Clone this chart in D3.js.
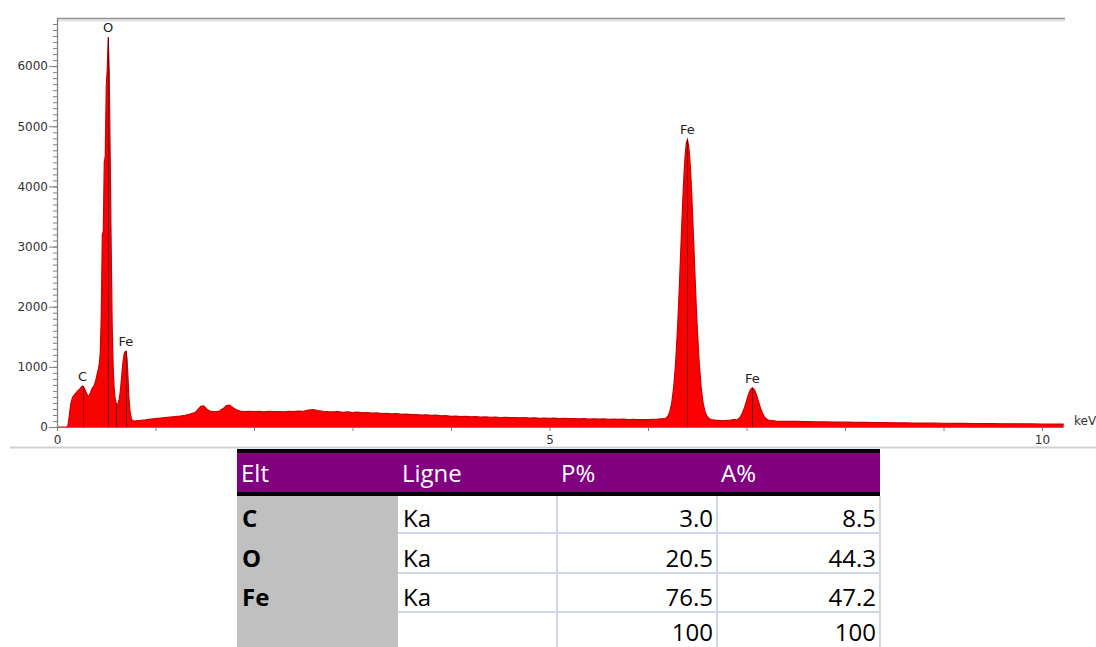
<!DOCTYPE html>
<html><head><meta charset="utf-8">
<script src="https://cdn.jsdelivr.net/npm/d3@7"></script>
<style>body{margin:0;background:#fff;} svg{display:block;}</style>
</head><body>
<svg id="chart" width="1096" height="647"></svg>
<script>
// ---------- Spectrum data (keV, counts) ----------
const lowEnergy = [[0,0],[0.10,0],[0.11,20],[0.12,120],[0.13,260],[0.14,380],[0.15,450],[0.16,500],[0.17,520],[0.18,545],[0.19,560],[0.20,580],[0.21,600],[0.22,615],[0.23,630],[0.24,650],[0.25,670],[0.26,680],[0.27,660],[0.28,640],[0.29,600],[0.30,560],[0.31,530],[0.32,510],[0.33,530],[0.34,570],[0.35,620],[0.36,650],[0.37,670],[0.38,700],[0.39,760],[0.40,820],[0.41,900],[0.42,960],[0.43,1050],[0.44,1250],[0.45,1900],[0.46,3200],[0.47,3250],[0.48,4400],[0.49,4500],[0.50,5650],[0.51,5950],[0.52,6480],[0.53,5900],[0.54,4500],[0.55,3000],[0.56,1700],[0.57,1000],[0.58,650],[0.59,470],[0.60,400],[0.61,370],[0.62,390],[0.63,450],[0.64,560],[0.65,720],[0.66,900],[0.67,1080],[0.68,1200],[0.69,1250],[0.70,1260],[0.71,1150],[0.72,850],[0.73,500],[0.74,280],[0.75,170],[0.76,120],[0.77,105],[0.78,100],[0.79,98],[0.80,104]];
const background = [[0.85,110],[0.90,118],[0.95,130],[1.00,140],[1.05,150],[1.10,158],[1.15,165],[1.20,172],[1.25,180],[1.30,195],[1.35,215],[1.40,240],[1.43,290],[1.46,345],[1.49,350],[1.52,300],[1.55,265],[1.60,250],[1.65,265],[1.69,310],[1.72,355],[1.75,365],[1.78,330],[1.82,285],[1.86,265],[1.90,258],[1.95,262],[2.00,255],[2.05,260],[2.10,252],[2.15,262],[2.20,255],[2.25,258],[2.30,250],[2.35,262],[2.40,256],[2.45,265],[2.50,262],[2.55,280],[2.60,288],[2.65,272],[2.70,262],[2.75,255],[2.80,250],[2.85,256],[2.90,245],[2.95,252],[3.00,240],[3.05,246],[3.10,236],[3.15,240],[3.20,230],[3.25,234],[3.30,222],[3.35,228],[3.40,218],[3.45,222],[3.50,210],[3.55,215],[3.60,205],[3.65,208],[3.70,198],[3.75,202],[3.80,192],[3.85,196],[3.90,186],[3.95,188],[4.00,178],[4.05,182],[4.10,174],[4.15,178],[4.20,170],[4.25,172],[4.30,165],[4.35,168],[4.40,162],[4.45,166],[4.50,158],[4.55,162],[4.60,155],[4.65,158],[4.70,152],[4.75,156],[4.80,148],[4.85,152],[4.90,145],[4.95,150],[5.00,143],[5.05,146],[5.10,140],[5.15,144],[5.20,138],[5.25,141],[5.30,136],[5.35,139],[5.40,133],[5.45,137],[5.50,131],[5.55,134],[5.60,128],[5.65,132],[5.70,126],[5.75,130],[5.80,124],[5.85,128],[5.90,122],[5.95,125],[6.00,124],[6.05,127],[6.10,130],[6.15,138]];
const feKa = [[6.18,145],[6.20,174],[6.22,246],[6.24,389],[6.26,646],[6.28,1057],[6.30,1650],[6.31,2010],[6.32,2404],[6.33,2820],[6.34,3241],[6.35,3647],[6.36,4020],[6.37,4335],[6.38,4575],[6.39,4729],[6.40,4780],[6.41,4700],[6.42,4560],[6.43,4320],[6.44,4010],[6.45,3640],[6.46,3230],[6.47,2810],[6.48,2400],[6.49,2000],[6.50,1650],[6.52,1060],[6.54,650],[6.56,390],[6.58,250],[6.60,175],[6.62,142]];
const gapKaKb = [[6.64,125],[6.68,115],[6.72,110],[6.76,108],[6.80,110],[6.84,115],[6.88,125]];
const feKb = [[6.90,116],[6.92,136],[6.94,174],[6.96,237],[6.98,326],[7.00,434],[7.02,540],[7.04,620],[7.06,650],[7.08,620],[7.10,540],[7.12,434],[7.14,326],[7.16,237],[7.18,174],[7.20,136],[7.22,116]];
const tail = [[7.3,100],[7.4,95],[7.5,92],[7.6,90],[7.7,86],[7.8,85],[7.9,82],[8.0,80],[8.1,78],[8.2,76],[8.3,75],[8.4,72],[8.5,70],[8.6,69],[8.7,66],[8.8,65],[8.9,63],[9.0,62],[9.1,60],[9.2,59],[9.3,58],[9.4,56],[9.5,55],[9.6,54],[9.7,53],[9.8,52],[9.9,51],[10.0,50],[10.1,49],[10.22,48]];

const peakLabels = ["C","O","Fe","Fe","Fe"];
const peakKeV    = [0.26, 0.52, 0.70, 6.40, 7.06];
const peakTop    = [680, 6480, 1260, 4780, 650];
const markerKeV  = [0.26, 0.52, 0.60, 0.70, 6.40, 7.06];
const markerTop  = [680, 6480, 400, 1260, 4780, 650];

const yTickValues = [0,1000,2000,3000,4000,5000,6000];
const xTickLabels = {0:"0",5:"5",10:"10"};

// ---------- Table data ----------
const headers = ["Elt","Ligne","P%","A%"];
const elements = ["C","O","Fe",""];
const lines = ["Ka","Ka","Ka",""];
const weightPct = ["3.0","20.5","76.5","100"];
const atomicPct = ["8.5","44.3","47.2","100"];

// ---------- Chart ----------
const spectrum = [].concat(lowEnergy, background, feKa, gapKaKb, feKb, tail);
const svg = d3.select("#chart");
const x = d3.scaleLinear().domain([0,10]).range([57,1042]);
const y = d3.scaleLinear().domain([0,6800]).range([427,18]);

// top frame line
svg.append("line").attr("x1",57).attr("x2",1065).attr("y1",20.5).attr("y2",20.5)
  .attr("stroke","#e2e2e2").attr("stroke-width",2);
svg.append("line").attr("x1",57).attr("x2",1065).attr("y1",18.5).attr("y2",18.5)
  .attr("stroke","#929292").attr("stroke-width",1.5);

// spectrum area
const area = d3.area().x(d=>x(d[0])).y0(y(0)).y1(d=>y(d[1]));
svg.append("path").datum(spectrum).attr("d",area).attr("fill","#fb0000");
const line = d3.line().x(d=>x(d[0])).y(d=>y(d[1]));
svg.append("path").datum(spectrum).attr("d",line).attr("fill","none")
  .attr("stroke","#cc0000").attr("stroke-width",1.2);

// peak marker lines
svg.append("g").selectAll("line").data(markerKeV).join("line")
  .attr("x1",d=>Math.round(x(d))+0.5).attr("x2",d=>Math.round(x(d))+0.5)
  .attr("y1",y(0)).attr("y2",(d,i)=>y(markerTop[i]))
  .attr("stroke","#7a0000").attr("stroke-width",1);

// left axis: minor ticks
const minor = svg.append("g").attr("transform","translate(57,0)")
  .call(d3.axisLeft(y).tickValues(d3.range(0,6800,100)).tickSize(4).tickFormat(""));
minor.select(".domain").remove();
minor.selectAll("line").attr("stroke","#808080");
// left axis: major ticks and labels
const major = svg.append("g").attr("transform","translate(57,0)")
  .call(d3.axisLeft(y).tickValues(yTickValues).tickSize(8).tickPadding(1).tickFormat(d3.format("d")));
major.select(".domain").remove();
major.selectAll("line").attr("stroke","#808080");
major.selectAll("text").attr("font-family","DejaVu Sans").attr("font-size",12).attr("fill","#333");
svg.append("line").attr("x1",57.5).attr("x2",57.5).attr("y1",18).attr("y2",431)
  .attr("stroke","#808080").attr("stroke-width",1.3);

// bottom axis
svg.append("line").attr("x1",57).attr("x2",x(10.22)).attr("y1",427.5).attr("y2",427.5)
  .attr("stroke","#8a6a6a").attr("stroke-width",1);
const xa = svg.append("g").attr("transform","translate(0,427)")
  .call(d3.axisBottom(x).tickValues(d3.range(0,11,1)).tickSize(4).tickPadding(4)
    .tickFormat(d=>xTickLabels[d]||""));
xa.select(".domain").remove();
xa.selectAll("line").attr("stroke","#808080");
xa.selectAll("text").attr("font-family","DejaVu Sans").attr("font-size",12).attr("fill","#333");
svg.append("text").attr("x",1074).attr("y",425).text("keV")
  .attr("font-family","DejaVu Sans").attr("font-size",12).attr("fill","#333");

// peak labels
svg.append("g").selectAll("text").data(peakLabels).join("text")
  .attr("x",(d,i)=>x(peakKeV[i])).attr("y",(d,i)=>y(peakTop[i])-5)
  .attr("text-anchor","middle").attr("font-family","DejaVu Sans").attr("font-size",13)
  .attr("fill","#222").text(d=>d);

// separator line under chart
svg.append("line").attr("x1",10).attr("x2",1096).attr("y1",447.5).attr("y2",447.5)
  .attr("stroke","#cfcfcf").attr("stroke-width",2);

// ---------- Table ----------
const colX = [237,398,557,717,880];
const rowY = [496,533,573,612,652];
const tg = svg.append("g");
tg.append("rect").attr("x",colX[0]).attr("y",449).attr("width",colX[4]-colX[0]).attr("height",4).attr("fill","#000");
tg.append("rect").attr("x",colX[0]).attr("y",453).attr("width",colX[4]-colX[0]).attr("height",39).attr("fill","#800080");
tg.append("rect").attr("x",colX[0]).attr("y",492).attr("width",colX[4]-colX[0]).attr("height",4).attr("fill","#000");
tg.append("rect").attr("x",colX[0]).attr("y",496).attr("width",colX[1]-colX[0]).attr("height",151).attr("fill","#c0c0c0");
// grid
tg.selectAll("line.h").data(rowY.slice(1,4)).join("line").attr("class","h")
  .attr("x1",colX[1]).attr("x2",colX[4]+1).attr("y1",d=>d).attr("y2",d=>d)
  .attr("stroke","#cfd7e6").attr("stroke-width",2);
tg.selectAll("line.v").data(colX.slice(2)).join("line").attr("class","v")
  .attr("x1",d=>d).attr("x2",d=>d).attr("y1",496).attr("y2",647)
  .attr("stroke","#cfd7e6").attr("stroke-width",2);
const fontT = "'Open Sans', Lato, sans-serif";
const fs = 24;
tg.selectAll("text.hd").data(headers).join("text").attr("class","hd")
  .attr("x",(d,i)=>colX[i]+4).attr("y",482).text(d=>d)
  .attr("font-family",fontT).attr("font-size",fs).attr("fill","#fff");
const baseY = [527,567,606,641];
tg.selectAll("text.el").data(elements).join("text").attr("class","el")
  .attr("x",colX[0]+5).attr("y",(d,i)=>baseY[i]).text(d=>d)
  .attr("font-family",fontT).attr("font-weight","bold").attr("font-size",fs).attr("fill","#000");
tg.selectAll("text.ln").data(lines).join("text").attr("class","ln")
  .attr("x",colX[1]+5).attr("y",(d,i)=>baseY[i]).text(d=>d)
  .attr("font-family",fontT).attr("font-size",fs).attr("fill","#000");
tg.selectAll("text.wp").data(weightPct).join("text").attr("class","wp")
  .attr("x",colX[3]-4).attr("y",(d,i)=>baseY[i]).attr("text-anchor","end").text(d=>d)
  .attr("font-family",fontT).attr("font-size",fs).attr("fill","#000");
tg.selectAll("text.ap").data(atomicPct).join("text").attr("class","ap")
  .attr("x",colX[4]-4).attr("y",(d,i)=>baseY[i]).attr("text-anchor","end").text(d=>d)
  .attr("font-family",fontT).attr("font-size",fs).attr("fill","#000");
</script>
</body></html>
